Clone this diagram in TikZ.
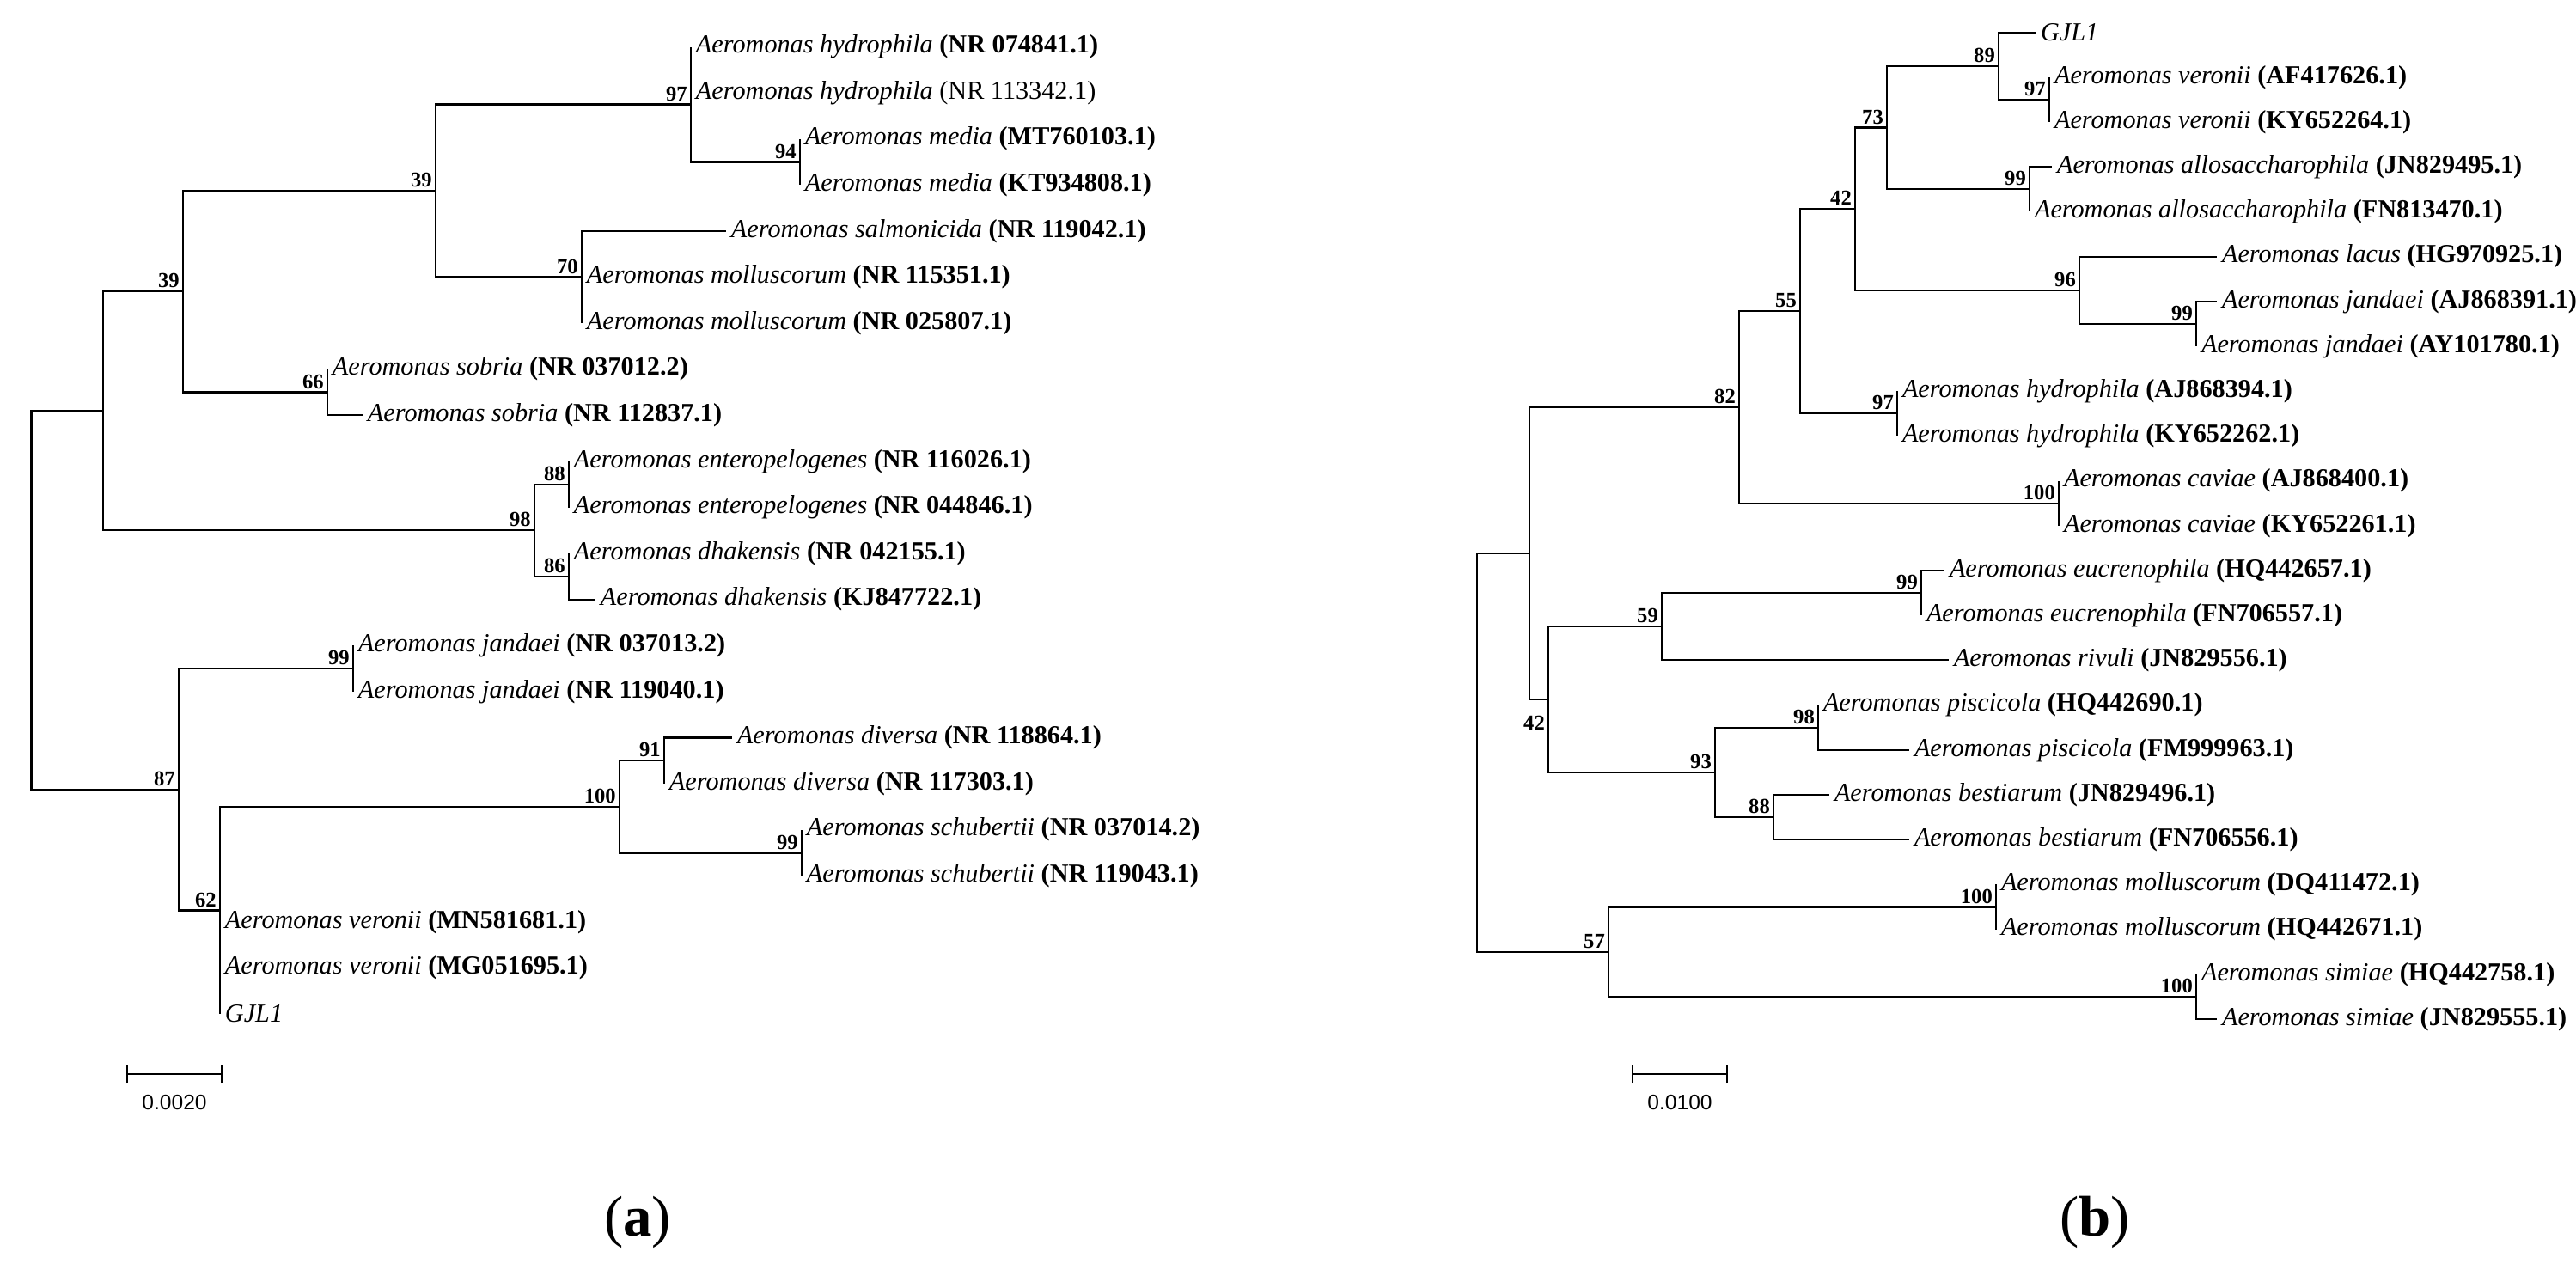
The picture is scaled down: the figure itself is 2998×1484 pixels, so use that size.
\documentclass[tikz,border=0pt]{standalone}
\usepackage{fontspec}
\setmainfont{Liberation Serif}
\newfontfamily\scalefont{Liberation Sans}
\newcommand{\taxon}[2]{\textit{Aeromonas #1} \textbf{(#2)}}

\tikzset{
  leaf/.style={anchor=west, inner sep=1.5pt, font=\fontsize{8.6}{10}\selectfont},
  bs/.style={anchor=south east, inner sep=1pt, font=\fontsize{7}{8}\selectfont\bfseries},
  branch/.style={line width=0.6pt},
}

\begin{document}
\begin{tikzpicture}[x=0.01cm, y=-0.01cm]
\useasboundingbox (0,0) rectangle (2998,1484);

% tree (a)
\node[leaf] (a0) at (804,54.5) {\taxon{hydrophila}{NR 074841.1}};
\node[leaf] (a1) at (804,108.1) {\textit{Aeromonas hydrophila} (NR 113342.1)};
\node[leaf] (a2) at (931,161.7) {\taxon{media}{MT760103.1}};
\node[leaf] (a3) at (931,215.3) {\taxon{media}{KT934808.1}};
\node[leaf] (a4) at (845,268.9) {\taxon{salmonicida}{NR 119042.1}};
\node[leaf] (a5) at (677,322.5) {\taxon{molluscorum}{NR 115351.1}};
\node[leaf] (a6) at (677,376.1) {\taxon{molluscorum}{NR 025807.1}};
\node[leaf] (a7) at (381,429.7) {\taxon{sobria}{NR 037012.2}};
\node[leaf] (a8) at (422,483.3) {\taxon{sobria}{NR 112837.1}};
\node[leaf] (a9) at (662,536.9) {\taxon{enteropelogenes}{NR 116026.1}};
\node[leaf] (a10) at (662,590.5) {\taxon{enteropelogenes}{NR 044846.1}};
\node[leaf] (a11) at (662,644.1) {\taxon{dhakensis}{NR 042155.1}};
\node[leaf] (a12) at (693,697.7) {\taxon{dhakensis}{KJ847722.1}};
\node[leaf] (a13) at (411,751.3) {\taxon{jandaei}{NR 037013.2}};
\node[leaf] (a14) at (411,804.9) {\taxon{jandaei}{NR 119040.1}};
\node[leaf] (a15) at (852,858.5) {\taxon{diversa}{NR 118864.1}};
\node[leaf] (a16) at (773,912.1) {\taxon{diversa}{NR 117303.1}};
\node[leaf] (a17) at (933,965.7) {\taxon{schubertii}{NR 037014.2}};
\node[leaf] (a18) at (933,1019.3) {\taxon{schubertii}{NR 119043.1}};
\node[leaf] (a19) at (256,1072.9) {\taxon{veronii}{MN581681.1}};
\node[leaf] (a20) at (256,1126.5) {\taxon{veronii}{MG051695.1}};
\node[leaf] (a21) at (256,1180.1) {\textit{GJL1}};

\coordinate (amedia) at (931,188.5);
\coordinate (aF) at (804,121.5);
\coordinate (aG) at (677,322.5);
\coordinate (aE) at (507,222);
\coordinate (asob) at (381,456.5);
\coordinate (aC) at (213,339.25);
\coordinate (aent) at (662,563.7);
\coordinate (adhk) at (662,670.9);
\coordinate (aD) at (622,617.3);
\coordinate (aA) at (120,478.3);
\coordinate (ajan) at (411,778.1);
\coordinate (adiv) at (773,885.3);
\coordinate (asch) at (933,992.5);
\coordinate (aH) at (721,938.9);
\coordinate (aN) at (256,1059.5);
\coordinate (aB) at (208,918.8);
\coordinate (aR) at (36.5,698.5);

\draw[branch] (amedia) |- (a2.west) (amedia) |- (a3.west);
\draw[branch] (aF) |- (a0.west) (aF) |- (a1.west) (aF) |- (amedia);
\draw[branch] (aG) |- (a4.west) (aG) |- (a5.west) (aG) |- (a6.west);
\draw[branch] (aE) |- (aF) (aE) |- (aG);
\draw[branch] (asob) |- (a7.west) (asob) |- (a8.west);
\draw[branch] (aC) |- (aE) (aC) |- (asob);
\draw[branch] (aent) |- (a9.west) (aent) |- (a10.west);
\draw[branch] (adhk) |- (a11.west) (adhk) |- (a12.west);
\draw[branch] (aD) |- (aent) (aD) |- (adhk);
\draw[branch] (aA) |- (aC) (aA) |- (aD);
\draw[branch] (ajan) |- (a13.west) (ajan) |- (a14.west);
\draw[branch] (adiv) |- (a15.west) (adiv) |- (a16.west);
\draw[branch] (asch) |- (a17.west) (asch) |- (a18.west);
\draw[branch] (aH) |- (adiv) (aH) |- (asch);
\draw[branch] (aN) |- (aH) (aN) |- (a19.west) (aN) |- (a20.west) (aN) |- (a21.west);
\draw[branch] (aB) |- (ajan) (aB) |- (aN);
\draw[branch] (aR) |- (aA) (aR) |- (aB);

\node[bs] at (amedia) {94};
\node[bs] at (aF) {97};
\node[bs] at (aG) {70};
\node[bs] at (aE) {39};
\node[bs] at (asob) {66};
\node[bs] at (aC) {39};
\node[bs] at (aent) {88};
\node[bs] at (adhk) {86};
\node[bs] at (aD) {98};
\node[bs] at (ajan) {99};
\node[bs] at (adiv) {91};
\node[bs] at (asch) {99};
\node[bs] at (aH) {100};
\node[bs] at (aN) {62};
\node[bs] at (aB) {87};

% scale bar (a)
\coordinate (asb1) at (148,1250);
\coordinate (asb2) at (258,1250);
\draw[branch] (asb1) -- (asb2);
\draw[branch] ([yshift=-0.1cm]asb1) -- ([yshift=0.1cm]asb1);
\draw[branch] ([yshift=-0.1cm]asb2) -- ([yshift=0.1cm]asb2);
\node[font=\scalefont\fontsize{7}{8}\selectfont, anchor=north] (asbl) at (203,1262) {0.0020};
\node[font=\fontsize{19}{22}\selectfont] (alab) at (742,1422) {(\textbf{a})};

% tree (b)
\node[leaf] (b0) at (2369,37.6) {\textit{GJL1}};
\node[leaf] (b1) at (2385,89.8) {\taxon{veronii}{AF417626.1}};
\node[leaf] (b2) at (2385,142) {\taxon{veronii}{KY652264.1}};
\node[leaf] (b3) at (2388,194.2) {\taxon{allosaccharophila}{JN829495.1}};
\node[leaf] (b4) at (2362,246.4) {\taxon{allosaccharophila}{FN813470.1}};
\node[leaf] (b5) at (2580,298.6) {\taxon{lacus}{HG970925.1}};
\node[leaf] (b6) at (2580,350.8) {\taxon{jandaei}{AJ868391.1}};
\node[leaf] (b7) at (2556,403) {\taxon{jandaei}{AY101780.1}};
\node[leaf] (b8) at (2208,455.2) {\taxon{hydrophila}{AJ868394.1}};
\node[leaf] (b9) at (2208,507.4) {\taxon{hydrophila}{KY652262.1}};
\node[leaf] (b10) at (2396,559.6) {\taxon{caviae}{AJ868400.1}};
\node[leaf] (b11) at (2396,611.8) {\taxon{caviae}{KY652261.1}};
\node[leaf] (b12) at (2263,664) {\taxon{eucrenophila}{HQ442657.1}};
\node[leaf] (b13) at (2236,716.2) {\taxon{eucrenophila}{FN706557.1}};
\node[leaf] (b14) at (2268,768.4) {\taxon{rivuli}{JN829556.1}};
\node[leaf] (b15) at (2116,820.6) {\taxon{piscicola}{HQ442690.1}};
\node[leaf] (b16) at (2222,872.8) {\taxon{piscicola}{FM999963.1}};
\node[leaf] (b17) at (2129,925) {\taxon{bestiarum}{JN829496.1}};
\node[leaf] (b18) at (2222,977.2) {\taxon{bestiarum}{FN706556.1}};
\node[leaf] (b19) at (2323,1029.4) {\taxon{molluscorum}{DQ411472.1}};
\node[leaf] (b20) at (2323,1081.6) {\taxon{molluscorum}{HQ442671.1}};
\node[leaf] (b21) at (2556,1133.8) {\taxon{simiae}{HQ442758.1}};
\node[leaf] (b22) at (2580,1186) {\taxon{simiae}{JN829555.1}};

\coordinate (bver) at (2385,115.9);
\coordinate (b89) at (2326,76.75);
\coordinate (ballo) at (2362,220.3);
\coordinate (b73) at (2196,148.5);
\coordinate (bjan) at (2556,376.9);
\coordinate (b96) at (2420,337.75);
\coordinate (b42a) at (2159,243.1);
\coordinate (bhyd) at (2208,481.3);
\coordinate (b55) at (2095,362.2);
\coordinate (bcav) at (2396,585.7);
\coordinate (b82) at (2024,473.95);
\coordinate (beuc) at (2236,690.1);
\coordinate (b59) at (1934,729.25);
\coordinate (bpis) at (2116,846.7);
\coordinate (bbes) at (2064,951.1);
\coordinate (b93) at (1996,898.9);
\coordinate (blow) at (1802,814.1);
\coordinate (bup) at (1780,644);
\coordinate (bmol) at (2323,1055.5);
\coordinate (bsim) at (2556,1159.9);
\coordinate (b57) at (1872,1107.7);
\coordinate (bR) at (1719,875.85);

\draw[branch] (bver) |- (b1.west) (bver) |- (b2.west);
\draw[branch] (b89) |- (b0.west) (b89) |- (bver);
\draw[branch] (ballo) |- (b3.west) (ballo) |- (b4.west);
\draw[branch] (b73) |- (b89) (b73) |- (ballo);
\draw[branch] (bjan) |- (b6.west) (bjan) |- (b7.west);
\draw[branch] (b96) |- (b5.west) (b96) |- (bjan);
\draw[branch] (b42a) |- (b73) (b42a) |- (b96);
\draw[branch] (bhyd) |- (b8.west) (bhyd) |- (b9.west);
\draw[branch] (b55) |- (b42a) (b55) |- (bhyd);
\draw[branch] (bcav) |- (b10.west) (bcav) |- (b11.west);
\draw[branch] (b82) |- (b55) (b82) |- (bcav);
\draw[branch] (beuc) |- (b12.west) (beuc) |- (b13.west);
\draw[branch] (b59) |- (beuc) (b59) |- (b14.west);
\draw[branch] (bpis) |- (b15.west) (bpis) |- (b16.west);
\draw[branch] (bbes) |- (b17.west) (bbes) |- (b18.west);
\draw[branch] (b93) |- (bpis) (b93) |- (bbes);
\draw[branch] (blow) |- (b59) (blow) |- (b93);
\draw[branch] (bup) |- (b82) (bup) |- (blow);
\draw[branch] (bmol) |- (b19.west) (bmol) |- (b20.west);
\draw[branch] (bsim) |- (b21.west) (bsim) |- (b22.west);
\draw[branch] (b57) |- (bmol) (b57) |- (bsim);
\draw[branch] (bR) |- (bup) (bR) |- (b57);

\node[bs] at (bver) {97};
\node[bs] at (b89) {89};
\node[bs] at (ballo) {99};
\node[bs] at (b73) {73};
\node[bs] at (bjan) {99};
\node[bs] at (b96) {96};
\node[bs] at (b42a) {42};
\node[bs] at (bhyd) {97};
\node[bs] at (b55) {55};
\node[bs] at (bcav) {100};
\node[bs] at (b82) {82};
\node[bs] at (beuc) {99};
\node[bs] at (b59) {59};
\node[bs] at (bpis) {98};
\node[bs] at (bbes) {88};
\node[bs] at (b93) {93};
\node[bs, anchor=north east] at ([yshift=-0.15cm]blow) {42};
\node[bs] at (bmol) {100};
\node[bs] at (bsim) {100};
\node[bs] at (b57) {57};

% scale bar (b)
\coordinate (bsb1) at (1900,1250);
\coordinate (bsb2) at (2010,1250);
\draw[branch] (bsb1) -- (bsb2);
\draw[branch] ([yshift=-0.1cm]bsb1) -- ([yshift=0.1cm]bsb1);
\draw[branch] ([yshift=-0.1cm]bsb2) -- ([yshift=0.1cm]bsb2);
\node[font=\scalefont\fontsize{7}{8}\selectfont, anchor=north] (bsbl) at (1955,1262) {0.0100};
\node[font=\fontsize{19}{22}\selectfont] (blab) at (2438,1422) {(\textbf{b})};

\end{tikzpicture}
\end{document}
